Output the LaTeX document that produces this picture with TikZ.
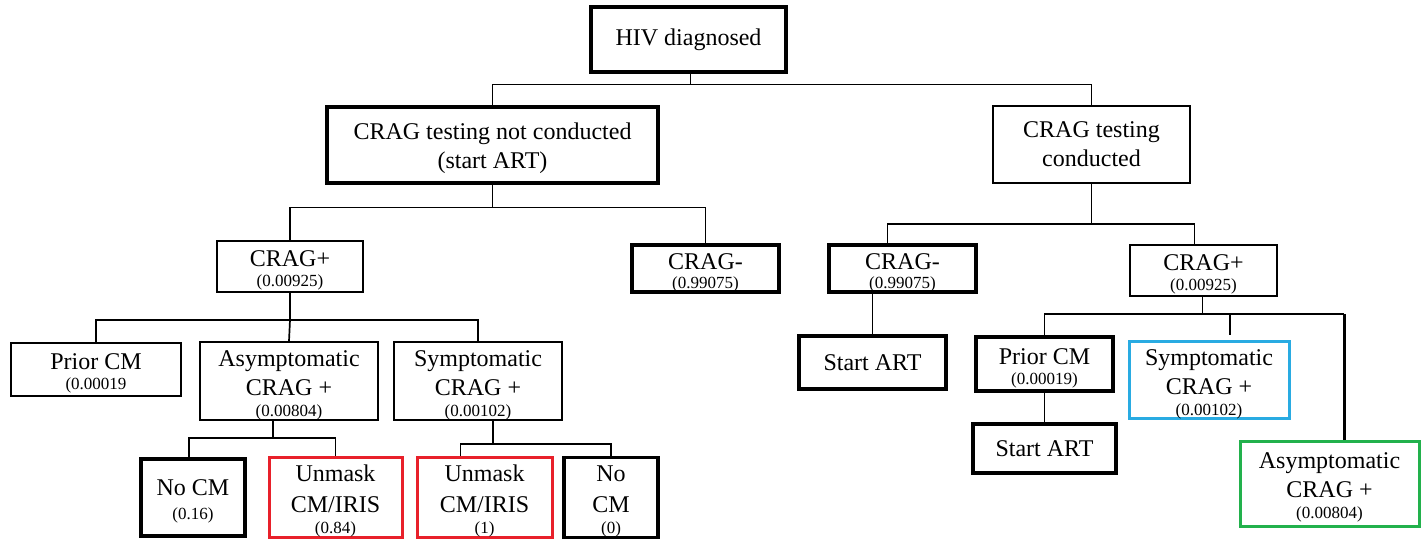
\documentclass[tikz,border=0pt]{standalone}
\usepackage{fontspec}
\setmainfont{Liberation Serif}
\usetikzlibrary{calc}
\definecolor{unmaskred}{RGB}{232,32,42}
\definecolor{symblue}{RGB}{41,171,226}
\definecolor{asymgreen}{RGB}{34,177,76}
\newcommand{\boxfont}{\fontsize{24}{29}\selectfont}
\newcommand{\boxstrut}{\rule{0pt}{24pt}}
\newcommand{\prob}[1]{{\fontsize{17}{20}\selectfont #1}}
\tikzset{
	box/.style={draw, line width=1.8pt, inner sep=0pt, align=center, font=\boxfont},
	heavybox/.style={box, line width=3.2pt},
	colorbox/.style={box, line width=3pt, draw=#1},
	link/.style={line width=1.7pt}
}

\begin{document}
\begin{tikzpicture}[x=1pt, y=1pt]
		%%%%% START %%%%%
		\useasboundingbox (0, 0) rectangle (1423, -538);
		
		\node[heavybox, minimum width=195, minimum height=65] (hiv) at (688.5, -39.5) {HIV diagnosed};
		\node[heavybox, minimum width=331, minimum height=76] (notc) at (492.5, -145) {\boxstrut CRAG testing not conducted\\(start ART)};
		\node[box, minimum width=197, minimum height=77] (cond) at (1091.5, -144.5) {CRAG testing\\conducted};
		
		\node[box, minimum width=146, minimum height=51] (lpos) at (290, -266.5) {\boxstrut CRAG+\\[-9pt]\prob{(0.00925)}};
		\node[heavybox, minimum width=147, minimum height=47] (lneg) at (705.5, -268.5) {\boxstrut CRAG-\\[-10pt]\prob{(0.99075)}};
		\node[heavybox, minimum width=147, minimum height=47] (rneg) at (902.5, -268.5) {\boxstrut CRAG-\\[-10pt]\prob{(0.99075)}};
		\node[box, minimum width=147, minimum height=51] (rpos) at (1203.5, -270.5) {\boxstrut CRAG+\\[-9pt]\prob{(0.00925)}};
		
		\node[box, minimum width=170, minimum height=53] (lprior) at (96, -369.5) {\boxstrut Prior CM\\[-9pt]\prob{(0.00019}};
		\node[box, minimum width=178, minimum height=76] (lasym) at (289, -381) {\boxstrut Asymptomatic\\CRAG +\\[-8pt]\prob{(0.00804)}};
		\node[box, minimum width=168, minimum height=76] (lsym) at (478, -381) {\boxstrut Symptomatic\\CRAG +\\[-8pt]\prob{(0.00102)}};
		
		\node[heavybox, minimum width=104, minimum height=77] (nocma) at (193, -497.5) {\boxstrut No CM\\[-5pt]\prob{(0.16)}};
		\node[colorbox=unmaskred, minimum width=133, minimum height=77] (unmaska) at (335.5, -497.5) {\boxstrut Unmask\\[2pt]CM/IRIS\\[-8pt]\prob{(0.84)}};
		\node[colorbox=unmaskred, minimum width=135, minimum height=77] (unmaskb) at (484.5, -497.5) {\boxstrut Unmask\\[2pt]CM/IRIS\\[-8pt]\prob{(1)}};
		\node[heavybox, minimum width=94, minimum height=77] (nocmb) at (611, -497.5) {\boxstrut No\\[2pt]CM\\[-8pt]\prob{(0)}};
		
		\node[heavybox, minimum width=147, minimum height=53] (rstart) at (872.5, -362.5) {Start ART};
		\node[heavybox, minimum width=137, minimum height=54] (rprior) at (1044.5, -364) {\boxstrut Prior CM\\[-9pt]\prob{(0.00019)}};
		\node[heavybox, minimum width=143, minimum height=49] (rstartb) at (1044.5, -448.5) {Start ART};
		\node[colorbox=symblue, minimum width=160, minimum height=76] (rsym) at (1209, -380) {\boxstrut Symptomatic\\CRAG +\\[-8pt]\prob{(0.00102)}};
		\node[colorbox=asymgreen, minimum width=179, minimum height=85] (rasym) at (1329.5, -483.5) {\boxstrut Asymptomatic\\CRAG +\\[-8pt]\prob{(0.00804)}};
		
		% top split
		\draw[link] ([xshift=2]hiv.south) -- ++(0, -11) coordinate (j0);
		\draw[link] (notc.north) |- (j0) -| (cond.north);
		
		% not conducted branch
		\draw[link] (notc.south) -- ++(0, -23) coordinate (j1);
		\draw[link] (lpos.north) |- (j1) -| (lneg.north);
		\draw[link] (lpos.south) -- ++(0, -27) coordinate (j3);
		\draw[link] (lprior.north) |- (j3) -| (lsym.north);
		\draw[link] (j3) -- (lasym.north);
		\draw[link] ([xshift=-16]lasym.south) -- ++(0, -17) coordinate (j4);
		\draw[link] ([xshift=-4]nocma.north) |- (j4) -| (unmaska.north);
		\draw[link] ([xshift=15]lsym.south) -- ++(0, -23) coordinate (j5);
		\draw[link] ([xshift=-24]unmaskb.north) |- (j5) -| (nocmb.north);
		
		% conducted branch
		\draw[link] (cond.south) -- ++(0, -40) coordinate (j2);
		\draw[link] ([xshift=-15]rneg.north) |- (j2) -| ([xshift=-9]rpos.north);
		\draw[link] (rstart.north) -- (rstart.north |- rneg.south);
		\draw[link] ([xshift=-1]rpos.south) -- ++(0, -17) coordinate (j6);
		\draw[link] (rprior.north) |- (j6) -- (j6 -| rasym.north) -- ++(14.5, 0) coordinate (j7);
		\draw[link] (j6 -| 1230, 0) -- ++(0, -21);
		\draw[line width=3pt] (j7) -- ([xshift=14.5]rasym.north);
		\draw[link] (rprior.south) -- (rstartb.north);
		
		%%%%% END %%%%%
	\end{tikzpicture}
\end{document}
